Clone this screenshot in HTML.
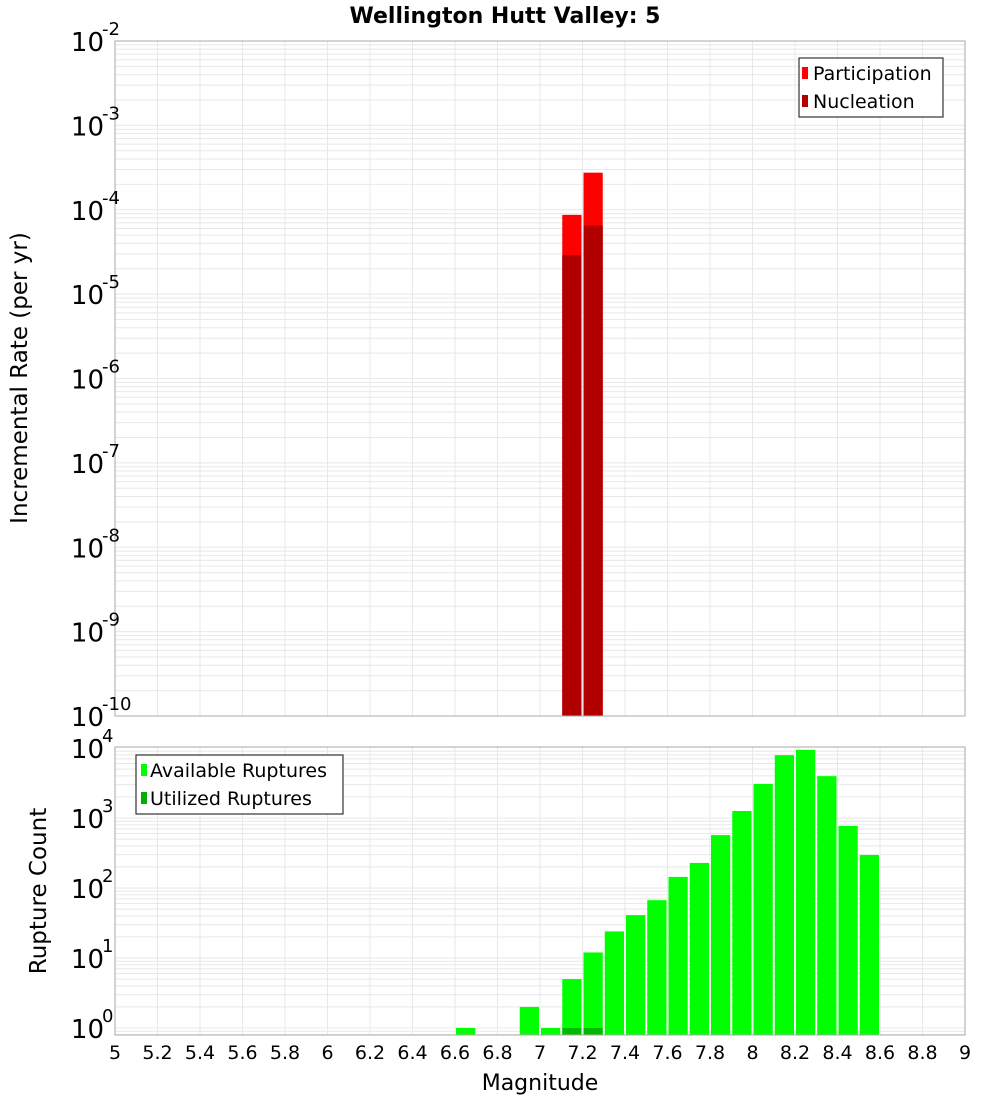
<!DOCTYPE html>
<html><head><meta charset="utf-8"><style>
body{margin:0;background:#fff;}
svg{display:block;font-family:"DejaVu Sans","Liberation Sans",sans-serif;}
</style></head><body>
<svg id="c" width="1000" height="1100" xmlns="http://www.w3.org/2000/svg">
<rect width="1000" height="1100" fill="#fff"/>
<text x="505" y="23" text-anchor="middle" font-size="22" font-weight="bold">Wellington Hutt Valley: 5</text>
<g id="top"></g><g id="bot"></g>
<text transform="translate(27,378) rotate(-90)" text-anchor="middle" font-size="23">Incremental Rate (per yr)</text>
<text transform="translate(46,891) rotate(-90)" text-anchor="middle" font-size="23">Rupture Count</text>
<text x="540" y="1090" text-anchor="middle" font-size="22">Magnitude</text>
<g>
<rect x="799" y="58" width="144" height="59" fill="#fff" stroke="#333" stroke-width="1.2"/>
<rect x="802" y="67" width="6" height="12" fill="#ff0000"/>
<text x="813" y="80" font-size="19">Participation</text>
<rect x="802" y="95" width="6" height="12" fill="#b20000"/>
<text x="813" y="108" font-size="19">Nucleation</text>
</g>
<g>
<rect x="136" y="755" width="207" height="59" fill="#fff" stroke="#333" stroke-width="1.2"/>
<rect x="141" y="764" width="6" height="12" fill="#00ff00"/>
<text x="150" y="777" font-size="19">Available Ruptures</text>
<rect x="141" y="792" width="6" height="12" fill="#00b000"/>
<text x="150" y="805" font-size="19">Utilized Ruptures</text>
</g>
</svg>
<script>
const partMags=[7.1,7.2];
const partVals=[8.7e-5,2.75e-4];
const nuclMags=[7.1,7.2];
const nuclVals=[2.9e-5,6.5e-5];
const availMags=[6.6,6.9,7.0,7.1,7.2,7.3,7.4,7.5,7.6,7.7,7.8,7.9,8.0,8.1,8.2,8.3,8.4,8.5];
const availVals=[1,2,1,5,12,24,41,67,144,228,570,1260,3070,7900,9400,3960,770,296];
const utilMags=[7.1,7.2];
const utilVals=[1,1];
const xTicks=[5,5.2,5.4,5.6,5.8,6,6.2,6.4,6.6,6.8,7,7.2,7.4,7.6,7.8,8,8.2,8.4,8.6,8.8,9];
const topExps=[-2,-3,-4,-5,-6,-7,-8,-9,-10];
const botExps=[4,3,2,1,0];
const NS='http://www.w3.org/2000/svg';
const X0=115,X1=965;
const xs=m=>X0+(m-5)/4*(X1-X0);
const TT=41,TB=716;
const ty=v=>TT+(-2-Math.log10(v))*(TB-TT)/8;
const BT=747,BB=1035,B0=1028,BD=70;
const by=v=>B0-Math.log10(v)*BD;
function mk(p,t,a){const e=document.createElementNS(NS,t);for(const k in a)e.setAttribute(k,a[k]);p.appendChild(e);return e;}
function grid(g,top,bot,yf,eMin,eMax){
  for(let e=eMin;e<=eMax;e++)for(let k=1;k<10;k++){const y=yf(k*Math.pow(10,e));if(y<top||y>bot)continue;
    const l=mk(g,'line',{x1:X0,x2:X1,y1:y,y2:y,stroke:'#e8e8e8','stroke-width':1});
    
    }
  xTicks.forEach(m=>{const l=mk(g,'line',{x1:xs(m),x2:xs(m),y1:top,y2:bot,stroke:'#e8e8e8','stroke-width':1});
    
    });
}
function ylab(g,y,e){const t=mk(g,'text',{x:104,y:y+10,'text-anchor':'end','font-size':26});
  
  
  t.textContent='10';
  const s=mk(g,'text',{x:102,y:y-6,'font-size':18});
  
  
  s.textContent=String(e);}
function bars(g,mags,vals,yf,base,fill,name){mags.forEach((m,i)=>{const x=xs(m)+1,w=xs(m+0.1)-xs(m)-2,y=yf(vals[i]);
  const r=mk(g,'rect',{x:x,y:y,width:w,height:base-y,fill:fill});
  
  });}
const gt=document.getElementById('top');
grid(gt,TT,TB,ty,-10,-3);
bars(gt,partMags,partVals,ty,TB,'#ff0000','participation-bar');
bars(gt,nuclMags,nuclVals,ty,TB,'#b20000','nucleation-bar');
const f1=mk(gt,'rect',{x:X0,y:TT,width:X1-X0,height:TB-TT,fill:'none',stroke:'#aaa'});


topExps.forEach(e=>ylab(gt,ty(Math.pow(10,e)),e));
const gb=document.getElementById('bot');
grid(gb,BT,BB,by,-1,3);
bars(gb,availMags,availVals,by,BB,'#00ff00','available-bar');
bars(gb,utilMags,utilVals,by,BB,'rgba(0,140,0,0.6)','utilized-bar');
const f2=mk(gb,'rect',{x:X0,y:BT,width:X1-X0,height:BB-BT,fill:'none',stroke:'#aaa'});


botExps.forEach(e=>ylab(gb,by(Math.pow(10,e)),e));
xTicks.forEach(m=>{const t=mk(gb,'text',{x:xs(m),y:1059,'text-anchor':'middle','font-size':19});
  
  
  t.textContent=String(m);});
</script>
</body></html>
